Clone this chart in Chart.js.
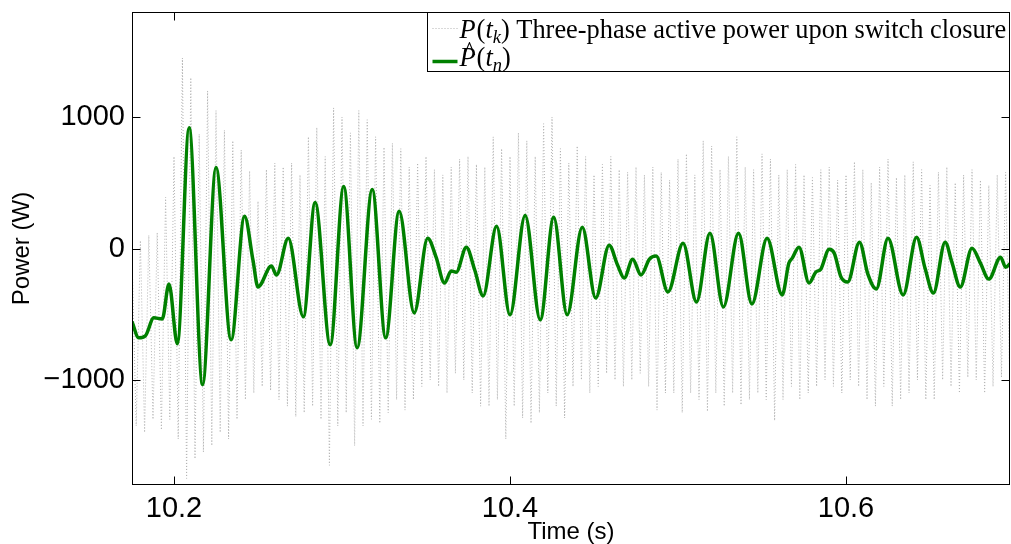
<!DOCTYPE html>
<html>
<head>
<meta charset="utf-8">
<script src="https://cdn.jsdelivr.net/npm/chart.js@4.4.0/dist/chart.umd.min.js"></script>
<style>
  html, body { margin: 0; padding: 0; background: #fff; }
  .container { width: 1011px; height: 544px; position: relative; }
</style>
</head>
<body>
<div class="container"><canvas id="chart"></canvas></div>
<script>
// smoothed estimate P^(t_n) (time in s, power in W)
var fitTime = [10.175, 10.179, 10.183, 10.188, 10.193, 10.197, 10.202, 10.209, 10.217, 10.225,
  10.234, 10.242, 10.247, 10.250, 10.258, 10.261, 10.268, 10.277, 10.284, 10.293,
  10.301, 10.309, 10.318, 10.326, 10.334, 10.343, 10.351, 10.356, 10.361, 10.365,
  10.368, 10.374, 10.379, 10.384, 10.392, 10.400, 10.409, 10.418, 10.426, 10.434,
  10.443, 10.451, 10.459, 10.464, 10.468, 10.473, 10.478, 10.483, 10.487, 10.494,
  10.503, 10.511, 10.519, 10.527, 10.536, 10.544, 10.553, 10.562, 10.566, 10.568,
  10.572, 10.578, 10.582, 10.585, 10.590, 10.593, 10.597, 10.601, 10.608, 10.613,
  10.618, 10.625, 10.634, 10.642, 10.647, 10.652, 10.659, 10.663, 10.668, 10.675,
  10.680, 10.685, 10.692, 10.695, 10.698];
var fitPower = [-556, -680, -664, -528, -536, -270, -725, 919, -1036, 616,
  -695, 245, -89, -293, -134, -202, 78, -520, 351, -733,
  472, -755, 449, -680, 283, -490, 78, -66, -263, -172,
  -180, 10, -164, -361, 169, -505, 252, -543, 237, -505,
  161, -377, 25, -126, -225, -81, -202, -81, -58, -331,
  40, -407, 116, -445, 116, -422, 78, -354, -111, -73,
  10, -263, -180, -157, -5, -36, -217, -255, 48, -195,
  -308, 78, -354, 86, -149, -339, 48, -104, -293, 2,
  -111, -233, -66, -142, -111];

// raw P(t_k): tops and bottoms of the fast swings, one pair every 5 ms
var rawStart = 10.175;
var rawStep = 0.005;
var rawHigh = [-50, 60, 100, 120, 390, 700, 1450, 1300, 870, 1200,
  1050, 900, 820, 750, 590, 360, 600, 650, 620, 650,
  560, 850, 920, 700, 1070, 1000, 880, 1050, 980, 850,
  770, 800, 760, 620, 650, 700, 600, 560, 620, 680,
  700, 640, 620, 850, 760, 700, 880, 820, 700, 950,
  1000, 760, 650, 780, 700, 560, 640, 700, 600, 580,
  620, 560, 620, 580, 520, 680, 720, 560, 820, 780,
  600, 700, 850, 620, 600, 720, 680, 560, 600, 640,
  560, 540, 600, 620, 520, 560, 660, 600, 500, 620,
  680, 540, 560, 660, 600, 480, 580, 620, 500, 560,
  600, 520, 480, 560, 580, 520];
var rawLow = [-1350, -1400, -1300, -1380, -1300, -1450, -1750, -1600, -1550, -1500,
  -1400, -1450, -1300, -1150, -1100, -1050, -1080, -1150, -1200, -1280,
  -1250, -1200, -1300, -1650, -1350, -1250, -1500, -1350, -1300, -1330,
  -1250, -1150, -1230, -1150, -1050, -1000, -1050, -1100, -950, -1000,
  -1100, -1200, -1200, -1150, -1450, -1200, -1290, -1330, -1250, -1100,
  -1200, -1290, -1050, -1000, -1100, -1050, -950, -1000, -1050, -1000,
  -950, -1050, -1230, -1100, -1100, -1250, -1100, -1150, -1240, -1100,
  -1200, -1100, -1190, -1150, -1100, -1150, -1310, -1150, -1050, -1150,
  -1100, -1050, -1000, -1050, -1100, -1000, -1050, -1150, -1200, -1050,
  -1200, -1150, -1100, -1000, -1150, -1150, -1000, -1050, -1100, -980,
  -1000, -1100, -1050, -980, -1050];

var xTicks = [10.2, 10.4, 10.6];
var yTicks = [-1000, 0, 1000];
var xRange = [10.175, 10.6976];
var yRange = [-1800, 1800];

var rawLabel = "Three-phase active power upon switch closure";

var fitData = fitTime.map(function (t, i) { return { x: t, y: fitPower[i] }; });
var rawData = [];
rawHigh.forEach(function (v, i) {
  rawData.push({ x: rawStart + i * rawStep, y: v });
  if (i < rawLow.length) rawData.push({ x: rawStart + (i + 0.5) * rawStep, y: rawLow[i] });
});

var sans = '"Liberation Sans", Arial, sans-serif';
var serif = '"Liberation Serif", "DejaVu Serif", serif';
var rawColor = 'rgb(178,178,178)';
var fitColor = 'rgb(0,128,0)';

// black box round the plot with inward ticks, like matlab
var framePlugin = {
  id: 'frame',
  afterDatasetsDraw: function (chart) {
    var ctx = chart.ctx, a = chart.chartArea;
    var xs = chart.scales.x, ys = chart.scales.y;
    var l = Math.round(a.left) + 0.5, r = Math.round(a.right) - 0.5;
    var t = Math.round(a.top) + 0.5, b = Math.round(a.bottom) - 0.5;
    ctx.save();
    ctx.strokeStyle = '#000';
    ctx.lineWidth = 1;
    ctx.strokeRect(l, t, r - l, b - t);
    ctx.beginPath();
    xTicks.forEach(function (v) {
      var px = Math.round(xs.getPixelForValue(v)) + 0.5;
      ctx.moveTo(px, b); ctx.lineTo(px, b - 8);
      ctx.moveTo(px, t); ctx.lineTo(px, t + 8);
    });
    yTicks.forEach(function (v) {
      var py = Math.round(ys.getPixelForValue(v)) + 0.5;
      ctx.moveTo(l, py); ctx.lineTo(l + 8, py);
      ctx.moveTo(r, py); ctx.lineTo(r - 8, py);
    });
    ctx.stroke();
    ctx.restore();
  }
};

// legend box in the top right corner with the math labels
var legendPlugin = {
  id: 'boxLegend',
  afterDraw: function (chart) {
    var ctx = chart.ctx, a = chart.chartArea;
    var right = Math.round(a.right) - 0.5, top = Math.round(a.top) + 0.5;
    var left = right - 582, bottom = top + 59;
    ctx.save();
    ctx.fillStyle = '#fff';
    ctx.fillRect(left, top, right - left, bottom - top);
    ctx.strokeStyle = '#000';
    ctx.lineWidth = 1;
    ctx.strokeRect(left, top, right - left, bottom - top);

    var y1 = top + 25, y2 = top + 53;

    ctx.strokeStyle = rawColor;
    ctx.setLineDash([1, 2]);
    ctx.beginPath();
    ctx.moveTo(left + 5, y1 - 9); ctx.lineTo(left + 30, y1 - 9);
    ctx.stroke();
    ctx.setLineDash([]);
    ctx.strokeStyle = fitColor;
    ctx.lineWidth = 3.5;
    ctx.beginPath();
    ctx.moveTo(left + 5, y2 - 4); ctx.lineTo(left + 30, y2 - 4);
    ctx.stroke();

    var size = 24;
    ctx.fillStyle = '#000';
    ctx.textBaseline = 'alphabetic';
    ctx.textAlign = 'left';
    function put(str, x, y, italic, px) {
      ctx.font = (italic ? 'italic ' : '') + px + 'px ' + serif;
      ctx.fillText(str, x, y);
      return x + ctx.measureText(str).width;
    }
    function width(str, italic, px) {
      ctx.font = (italic ? 'italic ' : '') + px + 'px ' + serif;
      return ctx.measureText(str).width;
    }
    var w1 = width('P', true, size) + width('(', false, size) + width('t', true, size) +
      width('k', true, size * 0.7) + width(') ' + rawLabel, false, size);
    size = size * 546 / w1;

    var x = left + 32;
    x = put('P', x, y1, true, size);
    x = put('(', x + 1, y1, false, size);
    x = put('t', x, y1, true, size);
    x = put('k', x, y1 + size * 0.2, true, size * 0.7);
    put(') ' + rawLabel, x, y1, false, size);

    x = left + 32;
    var px = x;
    x = put('P', x, y2, true, size);
    ctx.font = size + 'px ' + serif;
    ctx.textAlign = 'center';
    ctx.fillText('^', px + (x - px) / 2 + 2, y2 - 6);
    ctx.textAlign = 'left';
    x = put('(', x + 1, y2, false, size);
    x = put('t', x, y2, true, size);
    x = put('n', x, y2 + size * 0.2, true, size * 0.7);
    put(')', x, y2, false, size);
    ctx.restore();
  }
};

var ctx = document.getElementById('chart').getContext('2d');
new Chart(ctx, {
  type: 'line',
  data: {
    datasets: [
      {
        label: 'P-hat(t_n)',
        data: fitData,
        borderColor: fitColor,
        borderWidth: 3.5,
        pointRadius: 0,
        fill: false,
        cubicInterpolationMode: 'monotone',
        order: 0
      },
      {
        label: 'P(t_k) ' + rawLabel,
        data: rawData,
        borderColor: rawColor,
        borderWidth: 1,
        borderDash: [1, 2],
        pointRadius: 0,
        fill: false,
        tension: 0,
        order: 1
      }
    ]
  },
  options: {
    responsive: true,
    maintainAspectRatio: false,
    animation: false,
    layout: { padding: { top: 12, right: 1, left: 0, bottom: 0 } },
    plugins: {
      legend: { display: false },
      tooltip: { enabled: false }
    },
    scales: {
      x: {
        type: 'linear',
        min: xRange[0],
        max: xRange[1],
        grid: { display: false, drawTicks: false },
        border: { display: false },
        afterBuildTicks: function (s) { s.ticks = xTicks.map(function (v) { return { value: v }; }); },
        afterFit: function (s) { s.height = 59; s.paddingLeft = 0; s.paddingRight = 0; },
        ticks: {
          autoSkip: false,
          maxRotation: 0,
          padding: 7,
          color: '#000',
          font: { family: sans, size: 29 },
          callback: function (v) { return v.toFixed(1); }
        },
        title: {
          display: true,
          text: 'Time (s)',
          color: '#000',
          font: { family: sans, size: 24 },
          padding: { top: 0, bottom: -3 }
        }
      },
      y: {
        type: 'linear',
        min: yRange[0],
        max: yRange[1],
        grid: { display: false, drawTicks: false },
        border: { display: false },
        afterBuildTicks: function (s) { s.ticks = yTicks.map(function (v) { return { value: v }; }); },
        afterFit: function (s) { s.width = 132; s.paddingTop = 0; s.paddingBottom = 0; },
        ticks: {
          padding: 7,
          color: '#000',
          font: { family: sans, size: 29 },
          callback: function (v) { return v < 0 ? '\u2212' + Math.abs(v) : String(v); }
        },
        title: {
          display: true,
          text: 'Power (W)',
          color: '#000',
          font: { family: sans, size: 24 },
          padding: { top: 8, bottom: 0 }
        }
      }
    }
  },
  plugins: [framePlugin, legendPlugin]
});
</script>
</body>
</html>
